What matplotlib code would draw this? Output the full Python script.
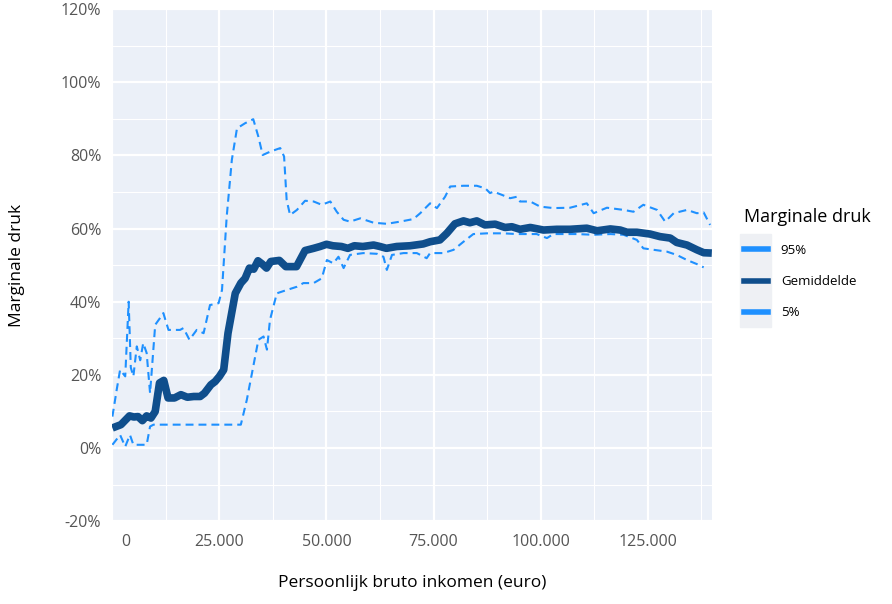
import matplotlib
matplotlib.use("Agg")
import matplotlib.pyplot as plt
import matplotlib.transforms as mtransforms
from matplotlib.lines import Line2D
from matplotlib.patches import Rectangle
from matplotlib.ticker import FuncFormatter, MultipleLocator

plt.rcParams["font.family"] = ["Open Sans", "DejaVu Sans"]

# ── Data (inkomen in euro, marginale druk in %) ───────────────────────────────
x_mean = [0, 2000, 4000, 5000, 6000, 7000, 8000, 9000, 10000, 11000, 12000,
          13000, 14500, 16000, 17500, 19000, 20500, 21500, 23000, 24000, 25000,
          26000, 27000, 28700, 30000, 31000, 32000, 33000, 34000, 35000, 36000,
          37000, 39000, 40500, 43000, 45000, 47000, 48500, 50000, 51500, 53500,
          55000, 56500, 58500, 61000, 62500, 64000, 66400, 69500, 72600, 74200,
          76500, 78100, 80000, 82000, 83500, 85100, 87000, 89400, 91700, 93300,
          95200, 97600, 100700, 103800, 106900, 110800, 113200, 116300, 118600,
          120200, 122500, 125600, 127900, 130300, 131800, 134200, 136500, 138100,
          140000]
y_mean = [5.5, 6.4, 8.8, 8.5, 8.6, 7.5, 8.8, 8.2, 10.0, 17.8, 18.5,
          13.7, 13.7, 14.6, 13.9, 14.1, 14.1, 15.0, 17.3, 18.2, 19.6,
          21.4, 31.4, 42.3, 45.1, 46.4, 49.2, 48.9, 51.2, 50.3, 49.2,
          51.0, 51.3, 49.6, 49.6, 54.0, 54.6, 55.1, 55.7, 55.3, 55.1,
          54.6, 55.3, 55.1, 55.5, 55.1, 54.6, 55.1, 55.3, 55.8, 56.4,
          56.9, 58.7, 61.3, 62.1, 61.6, 62.1, 61.0, 61.2, 60.3, 60.5,
          59.8, 60.3, 59.6, 59.8, 59.8, 60.1, 59.4, 59.9, 59.6,
          59.0, 59.0, 58.5, 57.8, 57.4, 56.2, 55.5, 54.2, 53.4,
          53.3]

x_p95 = [0, 1000, 1800, 3000, 3800, 4300, 4900, 5700, 6500, 7200, 8000,
         8800, 10000, 11100, 11900, 13100, 15800, 16600, 18000, 19700, 21300,
         22800, 24800, 25600, 26700, 27900, 29100, 31000, 32900, 34100, 35100,
         36800, 39200, 40100, 40700, 41500, 43100, 45000, 47000, 48900, 50900,
         52400, 54000, 55500, 57900, 61000, 64100, 67200, 70300, 71900, 74200,
         75800, 77700, 78900, 82000, 85100, 87100, 88200, 89000, 91000, 92900,
         94500, 95200, 97600, 99900, 103000, 106900, 110800, 112400, 115500,
         119400, 121700, 124000, 127200, 129100, 131100, 134200, 136500, 138100,
         139600]
y_p95 = [8.6, 15.9, 21.4, 19.6, 40.0, 22.0, 19.6, 27.8, 24.0, 28.7, 26.0,
         15.0, 33.7, 35.5, 36.9, 32.3, 32.3, 32.8, 29.6, 32.3, 31.4,
         39.1, 39.6, 43.2, 63.3, 78.8, 87.4, 88.8, 89.9, 85.1, 80.1,
         81.0, 82.0, 79.7, 67.8, 63.7, 65.1, 67.6, 67.4, 66.5, 67.4,
         64.6, 62.4, 61.9, 62.8, 61.6, 61.3, 61.9, 62.6, 64.2, 66.9,
         65.6, 68.7, 71.5, 71.7, 71.7, 71.0, 69.7, 70.1, 69.2, 68.3,
         68.7, 67.4, 67.4, 66.0, 65.6, 65.7, 66.9, 64.2, 65.7,
         65.1, 64.6, 66.5, 65.1, 61.9, 64.2, 65.1, 64.2, 64.4,
         61.0]

x_p5 = [0, 1800, 3000, 4100, 4900, 8000, 8800, 9600, 30000, 31400, 32900,
        34100, 35300, 36100, 36800, 38400, 40700, 43100, 44600, 47000, 48900,
        50100, 51600, 52800, 54000, 55500, 58600, 61800, 63300, 64100, 65300,
        68000, 71100, 73400, 74200, 77300, 79700, 82000, 84300, 87500, 91300,
        94500, 96000, 99100, 101500, 103000, 108500, 112400, 116300, 119400,
        122500, 124000, 126400, 129500, 131800, 134200, 136500, 138100]
y_p5 = [0.9, 3.6, 0.4, 3.6, 0.9, 0.9, 5.9, 6.4, 6.4, 13.2, 22.3,
        29.6, 30.5, 26.9, 35.0, 42.3, 43.2, 44.1, 45.1, 45.1, 46.4,
        51.4, 50.5, 52.3, 49.2, 52.8, 53.3, 53.1, 52.3, 48.7, 52.8,
        53.3, 53.3, 51.9, 53.3, 53.3, 54.2, 56.4, 58.5, 58.7, 58.7,
        58.5, 58.5, 58.5, 57.4, 58.5, 58.5, 58.3, 58.5, 58.3,
        56.9, 54.6, 54.2, 53.7, 52.8, 51.4, 50.3, 49.4]

x_ticks = [0, 25000, 50000, 75000, 100000, 125000]
x_tick_labels = ["0", "25.000", "50.000", "75.000", "100.000", "125.000"]
legend_labels = ["95%", "Gemiddelde", "5%"]

# ── Style ─────────────────────────────────────────────────────────────────────
COL_BAND = "#1e90ff"
COL_MEAN = "#0f4e8c"
BG = "#ebf0f8"
TICK_COL = "#555555"

fig = plt.figure(figsize=(8.92, 6.04), dpi=100)
ax = fig.add_axes([0.126, 0.137, 0.672, 0.848])
ax.set_facecolor(BG)

ax.plot(x_p95, y_p95, color=COL_BAND, lw=1.5, dashes=(3.8, 2.4), zorder=3)
ax.plot(x_p5, y_p5, color=COL_BAND, lw=1.5, dashes=(3.8, 2.4), zorder=3)
ax.plot(x_mean, y_mean, color=COL_MEAN, lw=5.5, solid_joinstyle="round",
        solid_capstyle="butt", zorder=4)

ax.set_xlim(0, 140000)
ax.set_ylim(-20, 120)

ax.set_xticks(x_ticks)
ax.set_xticklabels(x_tick_labels)
ax.xaxis.set_minor_locator(MultipleLocator(12500))
ax.yaxis.set_major_locator(MultipleLocator(20))
ax.yaxis.set_minor_locator(MultipleLocator(10))
ax.yaxis.set_major_formatter(FuncFormatter(lambda v, p: f"{v:.0f}%"))

ax.grid(which="major", color="white", lw=1.6, zorder=1)
ax.grid(which="minor", color="white", lw=0.8, zorder=1)
ax.set_axisbelow(True)
for s in ax.spines.values():
    s.set_visible(False)
ax.tick_params(which="both", length=0)
ax.tick_params(axis="y", pad=8, labelsize=11.5, labelcolor=TICK_COL)
ax.tick_params(axis="x", pad=9, labelsize=11.5, labelcolor=TICK_COL)

# plotly-style shift of the "0" label
zero_lab = ax.get_xticklabels()[0]
zero_lab.set_transform(zero_lab.get_transform() +
                       mtransforms.ScaledTranslation(13 / 100, 0, fig.dpi_scale_trans))

ax.set_xlabel("Persoonlijk bruto inkomen (euro)", fontsize=12.5)
ax.set_ylabel("Marginale druk", fontsize=12.5)
ax.xaxis.set_label_coords(0.5, -0.105)
ax.yaxis.set_label_coords(-0.145, 0.5)

# ── Legend ────────────────────────────────────────────────────────────────────
fig.patches.append(Rectangle((740 / 892, 1 - 327 / 604), 31 / 892, 93 / 604,
                             transform=fig.transFigure, color="#eef0f4",
                             zorder=0))
handles = [Line2D([], [], color=COL_BAND, lw=4),
           Line2D([], [], color=COL_MEAN, lw=4),
           Line2D([], [], color=COL_BAND, lw=4)]
leg = fig.legend(handles, legend_labels, title="Marginale druk",
                 loc="upper left", bbox_to_anchor=(732 / 892, 1 - 196 / 604),
                 frameon=False, fontsize=9.5, title_fontsize=13,
                 handlelength=1.8, handletextpad=1.0, labelspacing=1.38)
leg._legend_box.align = "left"

fig.savefig("out.png", dpi=100, facecolor="white")
